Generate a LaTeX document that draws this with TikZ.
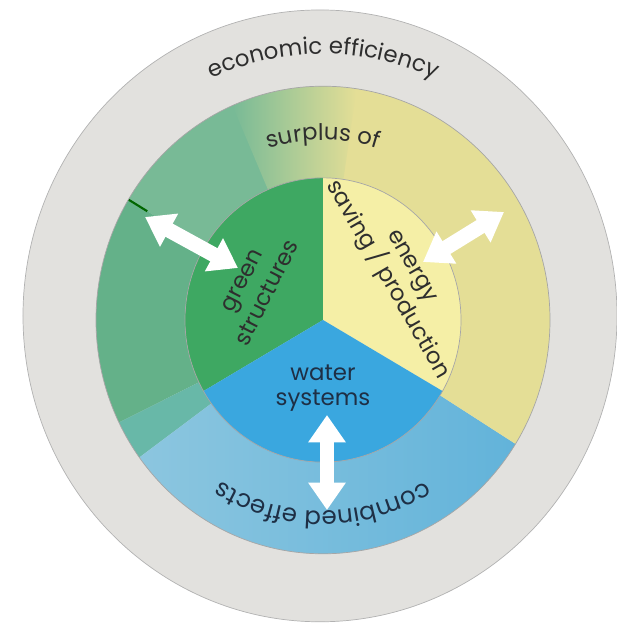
\documentclass[tikz,border=0pt]{standalone}
\usepackage{fontspec}
\setmainfont{Poppins}
\usepackage{tikz}
\usetikzlibrary{arrows.meta, decorations.text, positioning}
\definecolor{ringgray}{HTML}{E2E1DE}
\definecolor{ringgreen}{HTML}{64B189}
\definecolor{ringgreenlight}{HTML}{78BA96}
\definecolor{ringteal}{HTML}{68B8A8}
\definecolor{ringyellow}{HTML}{E4DE96}
\definecolor{ringpale}{HTML}{DCE4C8}
\definecolor{ringblue}{HTML}{62B3DA}
\definecolor{ringbluelight}{HTML}{8CC6DF}
\definecolor{coregreen}{HTML}{3EA862}
\definecolor{coreyellow}{HTML}{F5EFA6}
\definecolor{coreblue}{HTML}{3AA7DF}
\definecolor{textdark}{HTML}{2E2E2E}
\definecolor{textnavy}{HTML}{1E2F45}
\newcommand{\ringfont}{\fontsize{13}{15}\selectfont}
\tikzstyle{label} = [align=center, text=textdark, font=\fontsize{13}{16}\selectfont]
\tikzstyle{arrow} = [white, line width=0.3cm, {Triangle[length=0.55cm,width=0.72cm]}-{Triangle[length=0.55cm,width=0.72cm]}]
\tikzstyle{edge} = [draw=black!35, line width=0.4pt]

\begin{document}
\begin{tikzpicture}[x=0.02cm, y=0.02cm]
\useasboundingbox (-323,-308) rectangle (294,320);
\begin{scope}[yscale=1.03]
	% economic efficiency ring
	\fill[ringgray, draw=black!30] (-3,4) circle (297);
	% surplus ring
	\fill[ringgreenlight] (113:138) arc[start angle=113, end angle=149, radius=138] -- (149:227) arc[start angle=149, end angle=113, radius=227] -- cycle;
	\fill[ringgreen] (149:138) arc[start angle=149, end angle=206, radius=138] -- (206:227) arc[start angle=206, end angle=149, radius=227] -- cycle;
	\fill[ringteal] (206:138) arc[start angle=206, end angle=216, radius=138] -- (216:227) arc[start angle=216, end angle=206, radius=227] -- cycle;
	\shade[left color=ringbluelight, right color=ringblue] (216:138) arc[start angle=216, end angle=328, radius=138] -- (328:227) arc[start angle=328, end angle=216, radius=227] -- cycle;
	\fill[ringyellow] (-32:138) arc[start angle=-32, end angle=82, radius=138] -- (82:227) arc[start angle=82, end angle=-32, radius=227] -- cycle;
	\shade[left color=ringgreenlight, middle color=ringpale, right color=ringyellow] (81.5:138) arc[start angle=81.5, end angle=113.5, radius=138] -- (113.5:227) arc[start angle=113.5, end angle=81.5, radius=227] -- cycle;
	\draw[green!40!black, line width=1.2pt] (149:205) -- (149:227);
	\draw[edge] (0,0) circle (227);
	% core
	\fill[coregreen] (0,0) -- (90:138) arc[start angle=90, end angle=210, radius=138] -- cycle;
	\fill[coreyellow] (0,0) -- (-30:138) arc[start angle=-30, end angle=90, radius=138] -- cycle;
	\fill[coreblue] (0,0) -- (210:138) arc[start angle=210, end angle=330, radius=138] -- cycle;
	\draw[edge] (0,0) circle (138);
\end{scope}

% ring texts
\path[decorate, decoration={text along path, text align=center, text={|\ringfont\color{textdark}|economic efficiency}}] (150:266) arc[start angle=150, end angle=30, radius=266];
\path[decorate, decoration={text along path, text align=center, text={|\ringfont\color{textdark}|surplus of}}] (120:180) arc[start angle=120, end angle=60, radius=180];
\path[decorate, decoration={text along path, text align=center, text={|\fontsize{14}{16}\selectfont\color{textnavy}|combined effects}}] (-20:191) arc[start angle=-20, end angle=-160, radius=191];

% core texts
\node (green) [label, rotate=63] at (-68,33) {green\\structures};
\node (energy) [label, rotate=-60] at (75,46) {energy\\saving / production};
\node (water) [label, text=textnavy, font=\fontsize{13}{14.5}\selectfont] at (0,-68) {water\\systems};

% arrows
\coordinate (greenout) at (-178,103);
\coordinate (greenin) at (-85,52);
\coordinate (energyout) at (181,108);
\coordinate (energyin) at (100,58);
\coordinate (waterin) at (4,-95);
\coordinate (waterout) at (4,-190);
\draw [arrow] (greenout) -- (greenin);
\draw [arrow] (energyout) -- (energyin);
\draw [arrow] (waterin) -- (waterout);
\end{tikzpicture}
\end{document}
